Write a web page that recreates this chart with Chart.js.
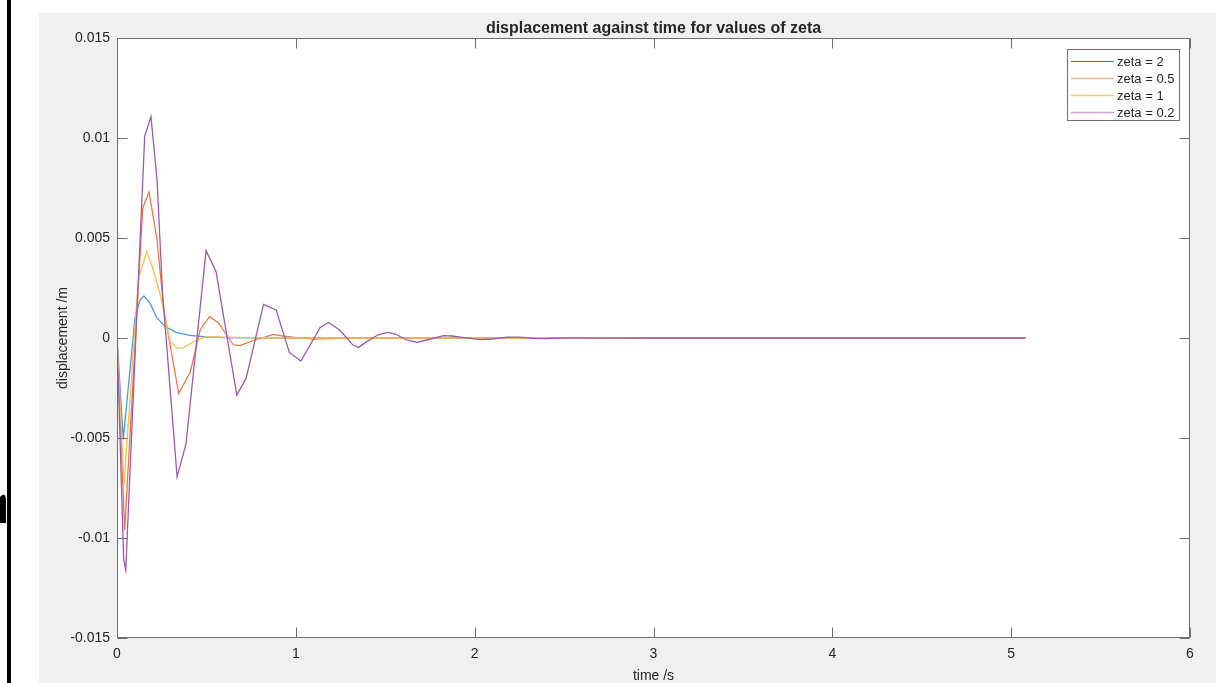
<!DOCTYPE html>
<html>
<head>
<meta charset="utf-8">
<script src="https://cdn.jsdelivr.net/npm/chart.js@4.4.1/dist/chart.umd.min.js"></script>
<style>
  html, body { margin: 0; padding: 0; background: #ffffff; }
  #plot { display: block; }
</style>
</head>
<body>
<canvas id="plot" width="1216" height="683"></canvas>
<script>
// 数据: 每个 zeta 的时间点(变步长)和位移
const zeta2Time = [0, 0.035, 0.09, 0.1, 0.129, 0.151, 0.185, 0.222, 0.269, 0.334, 0.409, 0.5, 0.6, 0.75, 1.0, 1.5, 2.0, 3.0, 4.0, 5.08];
const zeta2Disp = [0, -0.00507, 0, 0.001, 0.0019, 0.0021, 0.00173, 0.00103, 0.00057, 0.00027, 0.00013, 0.00005, 0.00002, 0.00001, 0, 0, 0, 0, 0, 0];

const zeta05Time = [0, 0.043, 0.144, 0.179, 0.224, 0.262, 0.345, 0.41, 0.465, 0.517, 0.567, 0.651, 0.688, 0.754, 0.875, 0.927, 1.0, 1.1, 1.25, 1.5, 1.8, 2.0, 2.2, 2.5, 3.0, 4.0, 5.08];
const zeta05Disp = [0, -0.0096, 0.0065, 0.0073, 0.0049, 0.0014, -0.00277, -0.0017, 0.0004, 0.00107, 0.00077, -0.00035, -0.00038, -0.00015, 0.00018, 0.0001, 0.00002, -0.00005, -0.00002, 0.00001, 0.00002, -0.00002, 0.00002, 0, 0, 0, 0];

const zeta1Time = [0, 0.039, 0.119, 0.166, 0.194, 0.241, 0.297, 0.338, 0.371, 0.446, 0.502, 0.6, 0.8, 1.0, 1.5, 2.0, 3.0, 4.0, 5.08];
const zeta1Disp = [0, -0.00735, 0.0029, 0.00432, 0.00365, 0.0022, -0.00018, -0.00052, -0.00048, -0.0001, 0.00007, 0.00004, 0.00001, 0, 0, 0, 0, 0, 0];

const zeta02Time = [0, 0.0375, 0.049, 0.105, 0.155, 0.19, 0.224, 0.255, 0.336, 0.386, 0.498, 0.554, 0.67, 0.722, 0.819, 0.89, 0.964, 1.028, 1.136, 1.183, 1.245, 1.319, 1.351, 1.397, 1.457, 1.51, 1.556, 1.621, 1.677, 1.733, 1.826, 1.873, 1.929, 2.03, 2.1, 2.18, 2.25, 2.33, 2.4, 2.5, 2.6, 2.75, 3.0, 3.5, 4.0, 4.5, 5.08];
const zeta02Disp = [0, -0.0111, -0.0116, 0, 0.0101, 0.01107, 0.0079, 0.0022, -0.00693, -0.0053, 0.00437, 0.00332, -0.00285, -0.00202, 0.00168, 0.0014, -0.00072, -0.00115, 0.00053, 0.00078, 0.0004, -0.00035, -0.00047, -0.00018, 0.00015, 0.00028, 0.0002, -0.0001, -0.00022, -0.0001, 0.00012, 0.0001, 0.00003, -0.00008, -0.00005, 0.00004, 0.00004, -0.00002, -0.00003, 0.00001, 0.00001, -0.00001, 0, 0, 0, 0, 0];

const seriesLabels = ['zeta = 2', 'zeta = 0.5', 'zeta = 1', 'zeta = 0.2'];
const seriesColors = ['#4a9ad6', '#e8784c', '#f4c04e', '#9c5aae'];
const legendColors = ['#2f78b4', '#f2b59b', '#f0c87a', '#cf9fd9'];
const xTicks = [0, 1, 2, 3, 4, 5, 6];
const yTicks = [-0.015, -0.01, -0.005, 0, 0.005, 0.01, 0.015];

const chartTitle = 'displacement against time for values of zeta';
const xTitle = 'time /s';
const yTitle = 'displacement /m';

const FONT = '"Liberation Sans", Arial, Helvetica, sans-serif';
const TEXT = '#262626';
const AXIS = '#6e6e6e';

function pairs(ts, vs) {
    return ts.map((t, i) => ({ x: t, y: vs[i] }));
}

const seriesData = [
    pairs(zeta2Time, zeta2Disp),
    pairs(zeta05Time, zeta05Disp),
    pairs(zeta1Time, zeta1Disp),
    pairs(zeta02Time, zeta02Disp)
];

// 背景、坐标框、刻度和图例
const matlabLook = {
    id: 'matlabLook',
    beforeDraw(chart) {
        const c = chart.ctx;
        const a = chart.chartArea;
        c.save();
        c.fillStyle = '#ffffff';
        c.fillRect(0, 0, chart.width, chart.height);
        c.fillStyle = '#f0f0f0';
        c.fillRect(39, 13, chart.width - 39, chart.height - 13);
        // 截图左侧的黑边
        c.fillStyle = '#000000';
        c.fillRect(7, 0, 4, chart.height);
        c.beginPath();
        c.moveTo(0, 497);
        c.quadraticCurveTo(6, 490, 6, 502);
        c.lineTo(6, 523);
        c.lineTo(0, 523);
        c.closePath();
        c.fill();
        c.fillStyle = '#ffffff';
        c.fillRect(a.left, a.top, a.right - a.left, a.bottom - a.top);
        c.restore();
    },
    afterDraw(chart) {
        const c = chart.ctx;
        const a = chart.chartArea;
        const xs = chart.scales.x;
        const ys = chart.scales.y;
        const L = Math.round(a.left) + 0.5, R = Math.round(a.right) - 0.5;
        const T = Math.round(a.top) + 0.5, B = Math.round(a.bottom) - 0.5;
        c.save();
        c.strokeStyle = AXIS;
        c.lineWidth = 1;
        c.strokeRect(L, T, R - L, B - T);
        c.beginPath();
        xTicks.forEach(v => {
            const px = Math.round(xs.getPixelForValue(v)) + 0.5;
            c.moveTo(px, B); c.lineTo(px, B - 10);
            c.moveTo(px, T); c.lineTo(px, T + 10);
        });
        yTicks.forEach(v => {
            const py = Math.round(ys.getPixelForValue(v)) + 0.5;
            c.moveTo(L, py); c.lineTo(L + 10, py);
            c.moveTo(R, py); c.lineTo(R - 10, py);
        });
        c.stroke();

        // 图例
        const bx = 1067.5, by = 49.5, bw = 112, bh = 71;
        c.fillStyle = '#ffffff';
        c.fillRect(bx, by, bw, bh);
        c.strokeStyle = AXIS;
        c.strokeRect(bx, by, bw, bh);
        c.font = '13px ' + FONT;
        c.textBaseline = 'middle';
        c.textAlign = 'left';
        seriesLabels.forEach((lab, i) => {
            const y = 61 + i * 17;
            c.strokeStyle = legendColors[i];
            c.lineWidth = i === 0 ? 1.2 : 1.6;
            c.beginPath();
            c.moveTo(1071, y + 0.5);
            c.lineTo(1114, y + 0.5);
            c.stroke();
            c.fillStyle = TEXT;
            c.fillText(lab, 1117, y + 1);
        });
        c.restore();
    }
};

const ctx = document.getElementById('plot').getContext('2d');
const chart = new Chart(ctx, {
    type: 'line',
    data: {
        datasets: seriesData.map((d, i) => ({
            label: seriesLabels[i],
            data: d,
            borderColor: seriesColors[i],
            backgroundColor: seriesColors[i],
            borderWidth: 1.3,
            pointRadius: 0,
            tension: 0,
            fill: false,
            order: 3 - i
        }))
    },
    options: {
        responsive: false,
        animation: false,
        layout: { padding: { left: 0, right: 26, top: 0, bottom: 0 } },
        plugins: {
            legend: { display: false },
            tooltip: { enabled: false },
            title: {
                display: true,
                text: chartTitle,
                fullSize: false,
                color: TEXT,
                font: { family: FONT, size: 16, weight: 'bold', lineHeight: 1.1875 },
                padding: { top: 19, bottom: 0 }
            }
        },
        scales: {
            x: {
                type: 'linear',
                min: 0,
                max: 6,
                afterBuildTicks: s => { s.ticks = xTicks.map(v => ({ value: v })); },
                afterFit: s => { s.height = 45; },
                grid: { display: false, drawTicks: false },
                border: { display: false },
                ticks: {
                    padding: 8,
                    color: TEXT,
                    maxRotation: 0,
                    font: { family: FONT, size: 14 },
                    callback: v => String(v)
                },
                title: {
                    display: true,
                    text: xTitle,
                    color: TEXT,
                    font: { family: FONT, size: 14, lineHeight: 1 },
                    padding: { top: 0, bottom: 0 }
                }
            },
            y: {
                type: 'linear',
                min: -0.015,
                max: 0.015,
                afterBuildTicks: s => { s.ticks = yTicks.map(v => ({ value: v })); },
                afterFit: s => { s.width = 117; },
                grid: { display: false, drawTicks: false },
                border: { display: false },
                ticks: {
                    padding: 7,
                    color: TEXT,
                    font: { family: FONT, size: 14 },
                    callback: v => String(parseFloat(v.toFixed(3)))
                },
                title: {
                    display: true,
                    text: yTitle,
                    color: TEXT,
                    font: { family: FONT, size: 14, lineHeight: 1 },
                    padding: { top: 56, bottom: 0 }
                }
            }
        }
    },
    plugins: [matlabLook]
});
</script>
</body>
</html>
